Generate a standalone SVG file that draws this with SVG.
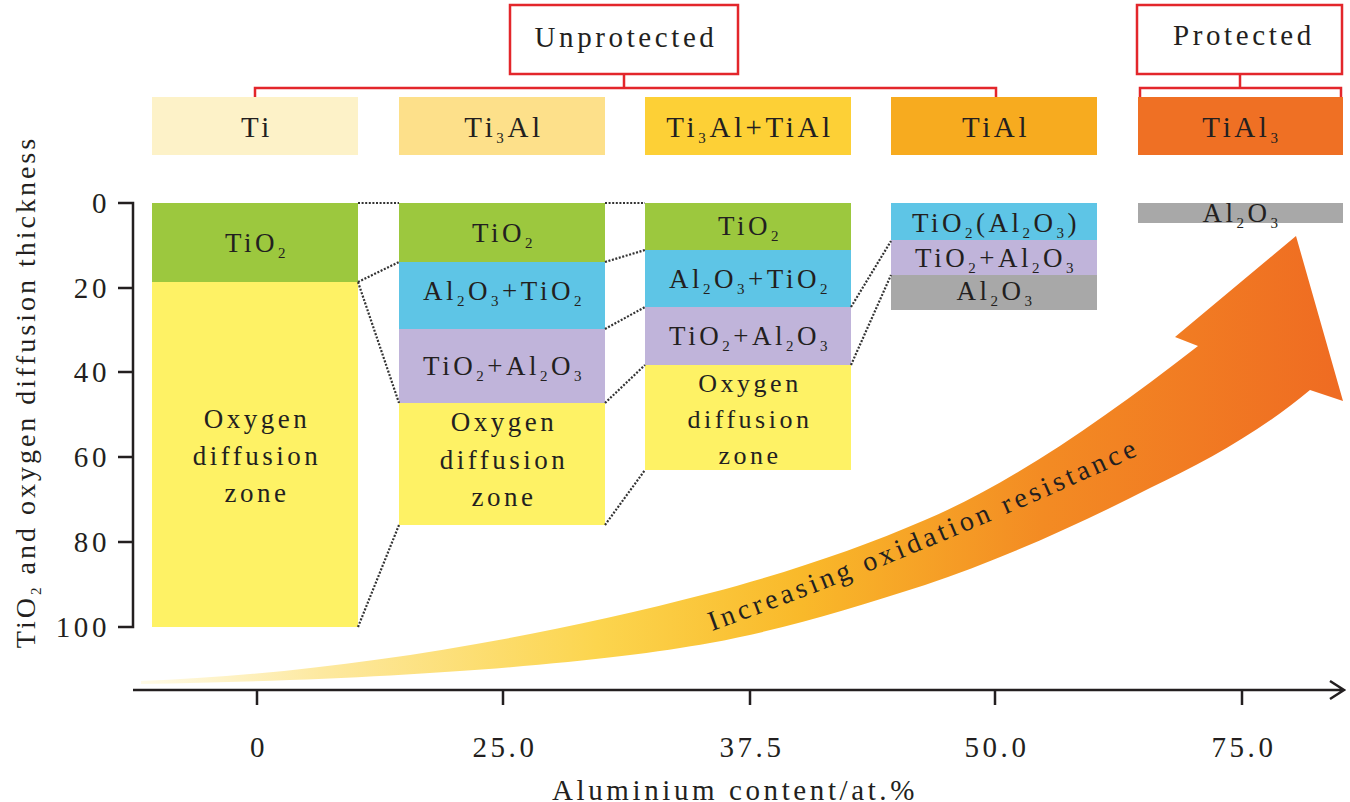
<svg xmlns="http://www.w3.org/2000/svg" width="1350" height="802" viewBox="0 0 1350 802" font-family="'Liberation Serif', 'Times New Roman', serif">
<style>
.t{font-family:"Liberation Serif","Times New Roman",serif;fill:#231f20;font-size:27px;letter-spacing:3.5px;text-anchor:middle}
.h{font-size:29px;letter-spacing:3.6px}
.s{font-size:15px}
.z{font-size:26px}
.red{fill:none;stroke:#e3262b;stroke-width:2.5}
.ax{fill:none;stroke:#231f20;stroke-width:2.5}
.dot{fill:none;stroke:#333;stroke-width:2.2;stroke-dasharray:2 1.6}
.g{fill:#9cc83e}.b{fill:#5ec5e6}.p{fill:#c0b4da}.y{fill:#fef265}.gr{fill:#a8a8a8}
</style>
<defs>
<linearGradient id="ag" gradientUnits="userSpaceOnUse" x1="140" y1="0" x2="1343" y2="0">
<stop offset="0" stop-color="#fffbe8"/>
<stop offset="0.15" stop-color="#fde9a0"/>
<stop offset="0.38" stop-color="#fcd54e"/>
<stop offset="0.55" stop-color="#f9b92a"/>
<stop offset="0.75" stop-color="#f38b23"/>
<stop offset="1" stop-color="#ef6b22"/>
</linearGradient>
<path id="tp" d="M 712 631 Q 920 556 1145 452"/>
</defs>
<rect width="1350" height="802" fill="#ffffff"/>

<g id="arrow">
<path d="M 141 681 C 300 675, 500 648, 710 593 C 790 572, 860 548, 925 520 C 1010 484, 1100 422, 1198 346 L 1175 337 L 1296 236 L 1343 401 L 1310 390 C 1260 432, 1205 462, 1150 488 C 1080 524, 1000 560, 925 585 C 850 609, 790 628, 710 643 C 600 663, 400 680, 141 684 Z" fill="url(#ag)"/>
<text class="t" style="text-anchor:start;font-size:28px;letter-spacing:3.8px"><textPath href="#tp">Increasing oxidation resistance</textPath></text>
</g>

<g id="unprotected">
<rect x="510" y="5" width="228" height="69" fill="#fff" class="red"/>
<text class="t h" x="626" y="47">Unprotected</text>
<path class="red" d="M 624 74 V 88 M 255 98 V 88 H 996 V 98"/>
</g>
<g id="protected">
<rect x="1137" y="5" width="205" height="69" fill="#fff" class="red"/>
<text class="t h" x="1244" y="45">Protected</text>
<path class="red" d="M 1240 74 V 88 M 1140 98 V 88 H 1341 V 98"/>
</g>

<g id="header-ti"><rect x="152" y="97" width="206" height="58" fill="#fdf2c8"/><text class="t h" x="257" y="137">Ti</text></g>
<g id="header-ti3al"><rect x="399" y="97" width="206" height="58" fill="#fde08a"/><text class="t h" x="504" y="137">Ti<tspan class="s" dy="6">3</tspan><tspan dy="-6">Al</tspan></text></g>
<g id="header-ti3al-tial"><rect x="645" y="97" width="206" height="58" fill="#fdd036"/><text class="t h" x="750" y="137">Ti<tspan class="s" dy="6">3</tspan><tspan dy="-6">Al+TiAl</tspan></text></g>
<g id="header-tial"><rect x="891" y="97" width="206" height="58" fill="#f7ab1f"/><text class="t h" x="996" y="137">TiAl</text></g>
<g id="header-tial3"><rect x="1138" y="97" width="205" height="58" fill="#ef7024"/><text class="t h" x="1242" y="137">TiAl<tspan class="s" dy="6">3</tspan></text></g>

<g id="y-axis">
<path class="ax" d="M 118 203 H 133 V 627 H 118 M 118 288 H 133 M 118 372 H 133 M 118 457 H 133 M 118 542 H 133"/>
<text class="t h" style="text-anchor:end" x="110" y="213">0</text>
<text class="t h" style="text-anchor:end" x="110" y="298">20</text>
<text class="t h" style="text-anchor:end" x="110" y="382">40</text>
<text class="t h" style="text-anchor:end" x="110" y="467">60</text>
<text class="t h" style="text-anchor:end" x="110" y="552">80</text>
<text class="t h" style="text-anchor:end" x="110" y="637">100</text>
<text class="t" style="font-size:28px;letter-spacing:3px" transform="translate(35 392) rotate(-90)">TiO<tspan class="s" dy="6">2</tspan><tspan dy="-6"> and oxygen diffusion thickness</tspan></text>
</g>

<g id="x-axis">
<path class="ax" d="M 133 690 H 1342 M 1330 681 L 1344 690 L 1330 699 M 257 690 V 705 M 503 690 V 705 M 750 690 V 705 M 995 690 V 705 M 1242 690 V 705"/>
<text class="t h" x="259" y="757">0</text>
<text class="t h" x="505" y="757">25.0</text>
<text class="t h" x="752" y="757">37.5</text>
<text class="t h" x="997" y="757">50.0</text>
<text class="t h" x="1244" y="757">75.0</text>
<text class="t h" x="735" y="800">Aluminium content/at.%</text>
</g>

<g id="col-ti">
<rect class="g" x="152" y="203" width="206" height="79"/>
<rect class="y" x="152" y="282" width="206" height="345"/>
<text class="t" x="257" y="252">TiO<tspan class="s" dy="6">2</tspan></text>
<text class="t" x="257" y="428">Oxygen</text>
<text class="t" x="257" y="465">diffusion</text>
<text class="t" x="257" y="502">zone</text>
</g>

<g id="col-ti3al">
<rect class="g" x="399" y="203" width="206" height="59"/>
<rect class="b" x="399" y="262" width="206" height="67"/>
<rect class="p" x="399" y="329" width="206" height="74"/>
<rect class="y" x="399" y="403" width="206" height="122"/>
<text class="t" x="504" y="242">TiO<tspan class="s" dy="6">2</tspan></text>
<text class="t" x="504" y="300">Al<tspan class="s" dy="6">2</tspan><tspan dy="-6">O</tspan><tspan class="s" dy="6">3</tspan><tspan dy="-6">+TiO</tspan><tspan class="s" dy="6">2</tspan></text>
<text class="t" x="504" y="375">TiO<tspan class="s" dy="6">2</tspan><tspan dy="-6">+Al</tspan><tspan class="s" dy="6">2</tspan><tspan dy="-6">O</tspan><tspan class="s" dy="6">3</tspan></text>
<text class="t" x="504" y="431">Oxygen</text>
<text class="t" x="504" y="469">diffusion</text>
<text class="t" x="504" y="506">zone</text>
</g>

<g id="col-ti3al-tial">
<rect class="g" x="645" y="203" width="206" height="47"/>
<rect class="b" x="645" y="250" width="206" height="57"/>
<rect class="p" x="645" y="307" width="206" height="58"/>
<rect class="y" x="645" y="365" width="206" height="105"/>
<text class="t" x="750" y="235">TiO<tspan class="s" dy="6">2</tspan></text>
<text class="t" x="750" y="288">Al<tspan class="s" dy="6">2</tspan><tspan dy="-6">O</tspan><tspan class="s" dy="6">3</tspan><tspan dy="-6">+TiO</tspan><tspan class="s" dy="6">2</tspan></text>
<text class="t" x="750" y="345">TiO<tspan class="s" dy="6">2</tspan><tspan dy="-6">+Al</tspan><tspan class="s" dy="6">2</tspan><tspan dy="-6">O</tspan><tspan class="s" dy="6">3</tspan></text>
<text class="t z" x="750" y="392">Oxygen</text>
<text class="t z" x="750" y="428">diffusion</text>
<text class="t z" x="750" y="464">zone</text>
</g>

<g id="col-tial">
<rect class="b" x="891" y="203" width="206" height="37"/>
<rect class="p" x="891" y="240" width="206" height="35"/>
<rect class="gr" x="891" y="275" width="206" height="35"/>
<text class="t" x="996" y="232">TiO<tspan class="s" dy="6">2</tspan><tspan dy="-6">(Al</tspan><tspan class="s" dy="6">2</tspan><tspan dy="-6">O</tspan><tspan class="s" dy="6">3</tspan><tspan dy="-6">)</tspan></text>
<text class="t" x="996" y="267">TiO<tspan class="s" dy="6">2</tspan><tspan dy="-6">+Al</tspan><tspan class="s" dy="6">2</tspan><tspan dy="-6">O</tspan><tspan class="s" dy="6">3</tspan></text>
<text class="t" x="996" y="300">Al<tspan class="s" dy="6">2</tspan><tspan dy="-6">O</tspan><tspan class="s" dy="6">3</tspan></text>
</g>

<g id="col-tial3">
<rect class="gr" x="1138" y="203" width="205" height="20"/>
<text class="t" x="1242" y="222">Al<tspan class="s" dy="6">2</tspan><tspan dy="-6">O</tspan><tspan class="s" dy="6">3</tspan></text>
</g>

<g id="connectors">
<path class="dot" d="M 358 203 H 399 M 358 282 L 399 262 M 358 282 L 399 403 M 358 627 L 399 525"/>
<path class="dot" d="M 605 203 H 645 M 605 262 L 645 250 M 605 329 L 645 307 M 605 403 L 645 365 M 605 525 L 645 470"/>
<path class="dot" d="M 851 307 L 891 241 M 851 365 L 891 275"/>
</g>
</svg>
